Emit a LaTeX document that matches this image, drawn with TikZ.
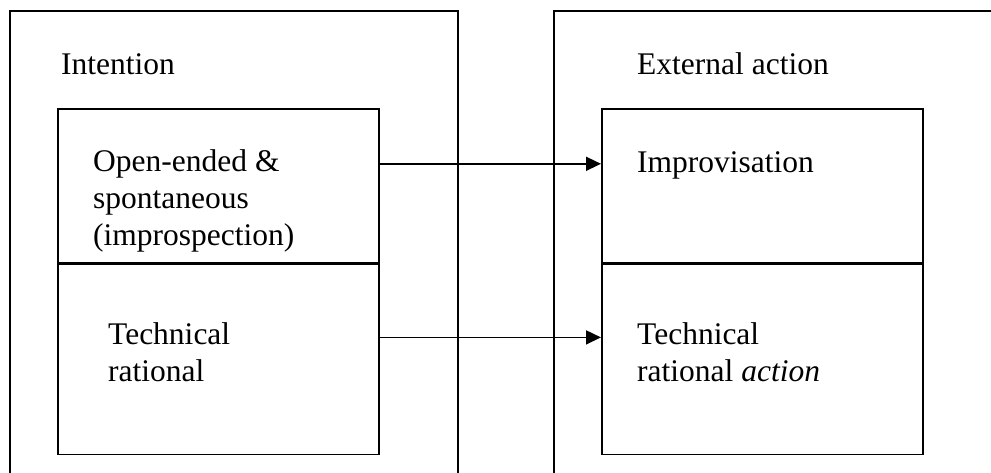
\documentclass[tikz,border=0pt]{standalone}
\usepackage{fontspec}
\setmainfont{Liberation Serif}
\usetikzlibrary{arrows.meta, positioning}

\begin{document}
\begin{tikzpicture}[
    x=1pt, y=-1pt,
    outer/.style={rectangle, draw, line width=1.6pt, anchor=north west, inner sep=0pt},
    part/.style={rectangle, draw, line width=1.6pt, minimum width=321pt, inner sep=0pt},
    label/.style={anchor=base west, inner sep=0pt, align=left, font=\fontsize{31.5}{36.7}\selectfont},
    arrow/.style={-{Triangle[length=15pt,width=14pt]}, line width=1.6pt}
]
    \useasboundingbox (0,0) rectangle (991,472);
    \clip (0,0) rectangle (991,472);

    % Outer boxes (run past the page edge)
    \node [outer, minimum width=448pt, minimum height=490pt] (intent) at (9,10) {};
    \node [outer, minimum width=460pt, minimum height=490pt] (external) at (553,10) {};

    % Inner boxes
    \node [part, minimum height=154pt, anchor=north west] (open) at (57,108) {};
    \node [part, minimum height=190pt, below=0pt of open] (tech) {};
    \node [part, minimum height=154pt, anchor=north west] (impro) at (601,108) {};
    \node [part, minimum height=190pt, below=0pt of impro] (techact) {};

    % Labels (base = last line)
    \node [label] (intentlbl) at (61,74) {Intention};
    \node [label] (externallbl) at (637,74) {External action};
    \node [label] (openlbl) at (93,245) {Open-ended \&\\spontaneous\\(improspection)};
    \node [label] (techlbl) at (108,381) {Technical\\rational};
    \node [label] (improlbl) at (637,172) {Improvisation};
    \node [label] (techactlbl) at (637,381) {Technical\\rational \textit{action}};

    % Arrows
    \draw [arrow] ([yshift=22pt]open.east) -- ([yshift=22pt]impro.west);
    \draw [arrow] ([yshift=22pt]tech.east) -- ([yshift=22pt]techact.west);

\end{tikzpicture}
\end{document}
